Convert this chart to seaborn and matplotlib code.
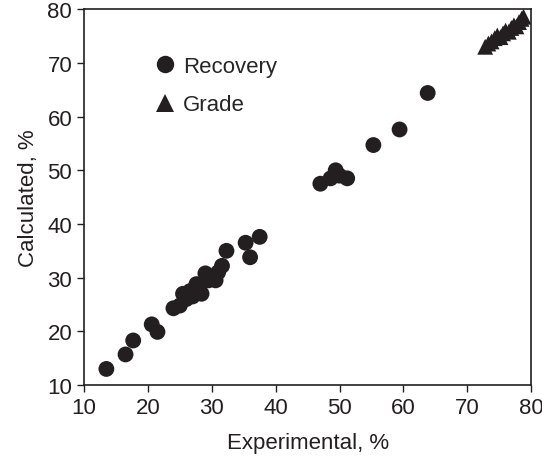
import matplotlib
matplotlib.use("Agg")
import matplotlib.pyplot as plt
import seaborn as sns
import pandas as pd

rec_x = [13.5, 16.5, 17.7, 20.6, 21.5, 24.0, 25.0, 25.5, 26.0, 26.6, 27.0, 27.6, 28.0, 28.4, 29.0, 29.5, 30.0, 30.6, 31.0, 31.6, 32.3, 35.3, 36.0, 37.5, 47.0, 48.6, 49.4, 50.0, 51.2, 55.3, 59.4, 63.8]
rec_y = [13.0, 15.7, 18.3, 21.3, 19.9, 24.3, 24.8, 27.0, 26.0, 27.5, 26.5, 28.8, 27.8, 27.0, 30.8, 29.5, 30.2, 29.5, 31.0, 32.2, 35.0, 36.5, 33.8, 37.6, 47.5, 48.5, 50.0, 49.0, 48.5, 54.7, 57.6, 64.4]
grade_x = [72.8, 73.3, 73.8, 74.3, 74.7, 75.2, 75.6, 76.0, 76.5, 76.9, 77.3, 77.7, 78.1, 78.5, 78.8]
grade_y = [73.0, 73.6, 74.0, 74.6, 75.1, 74.8, 75.5, 76.0, 75.8, 76.5, 77.0, 76.8, 77.6, 78.2, 78.6]

df = pd.concat([
    pd.DataFrame({"Experimental": rec_x, "Calculated": rec_y, "Series": "Recovery"}),
    pd.DataFrame({"Experimental": grade_x, "Calculated": grade_y, "Series": "Grade"}),
])

sns.set_style("ticks")
plt.rcParams['font.family'] = ['Liberation Sans', 'DejaVu Sans']

fig = plt.figure(figsize=(5.42, 4.64), dpi=100)
ax = fig.add_axes([0.155, 0.168, 0.825, 0.81])
sns.scatterplot(data=df, x="Experimental", y="Calculated", hue="Series", style="Series",
                markers={"Recovery": "o", "Grade": "^"},
                palette={"Recovery": "#231f20", "Grade": "#231f20"},
                s=130, edgecolor="none", linewidth=0, ax=ax, legend=True)

ax.set_xlim(10, 80)
ax.set_ylim(10, 80)
ax.set_xticks(range(10, 81, 10))
ax.set_yticks(range(10, 81, 10))
ax.tick_params(labelsize=16, direction="out", length=5, width=1, colors="#231f20")
ax.set_xlabel("Experimental, %", fontsize=16, labelpad=10, color="#231f20")
ax.set_ylabel("Calculated, %", fontsize=16, labelpad=6, color="#231f20")
for sp in ax.spines.values():
    sp.set_visible(True)
    sp.set_linewidth(1.2)
    sp.set_color("#231f20")

leg = ax.legend(loc="upper left", bbox_to_anchor=(0.112, 0.93), frameon=False,
                fontsize=16, handlelength=1.0, handletextpad=0.3,
                labelspacing=0.8, markerscale=1.1)

fig.savefig("out.png", dpi=100)
